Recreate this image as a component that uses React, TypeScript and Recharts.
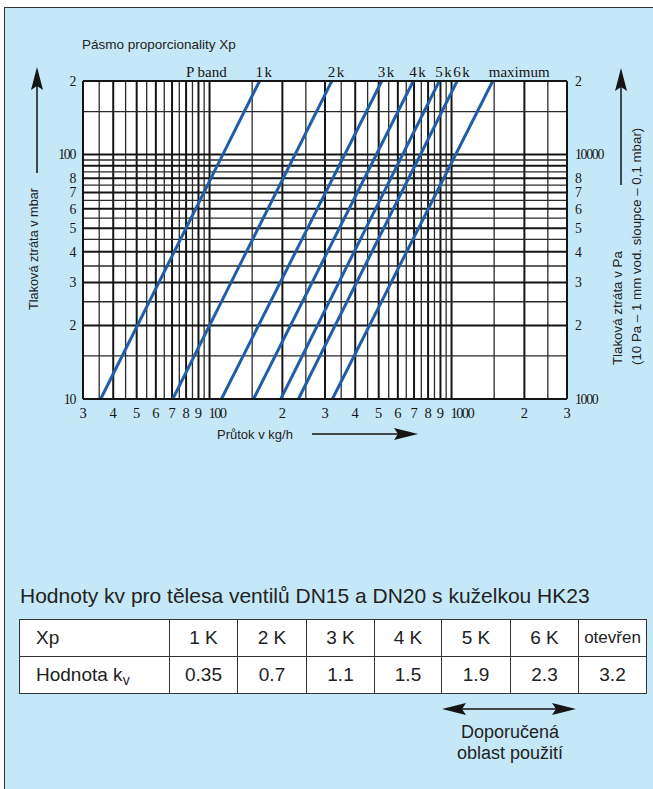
import { LineChart, Line, XAxis, YAxis, ReferenceLine, CartesianGrid } from "recharts";

// flow (kg/h) where each Xp line crosses 10 mbar and 200 mbar
const seriesNames = ["1k", "2k", "3k", "4k", "5k", "6k", "maximum"];
const flowAt10 = [35.5, 70.5, 112, 152, 197, 233, 322];
const flowAt200 = [161, 320, 515, 695, 890, 1055, 1480];
const dpRange = [10, 200];

const flowTicks = [30, 40, 50, 60, 70, 80, 90, 100, 200, 300, 400, 500, 600, 700, 800, 900, 1000, 2000, 3000];
const mbarTicks = [10, 20, 30, 40, 50, 60, 70, 80, 100, 200];
const paTicks = [1000, 2000, 3000, 4000, 5000, 6000, 7000, 8000, 10000, 20000];

const flowGridMajor = [40, 50, 60, 70, 80, 90, 100, 200, 300, 400, 500, 600, 700, 800, 900, 1000, 2000];
const flowGridMinor = [35, 45, 55, 65, 75, 85, 95, 150, 250, 350, 450, 550, 650, 750, 850, 950, 1500, 2500];
const mbarGridMajor = [20, 30, 40, 50, 60, 70, 80, 90, 100];
const mbarGridMinor = [15, 25, 35, 45, 55, 65, 75, 85, 95, 150];

const tableXp = ["1 K", "2 K", "3 K", "4 K", "5 K", "6 K", "otevřen"];
const tableKv = ["0.35", "0.7", "1.1", "1.5", "1.9", "2.3", "3.2"];

const SANS = '"Liberation Sans", Arial, Helvetica, sans-serif';
const SERIF = '"Liberation Serif", "Times New Roman", serif';
const BLUE = "#1f5ea8";
const INK = "#151515";
const BG = "#c5e8f8";

function isDecade(v: number) {
  return /^10+$/.test(String(v));
}

function shortLabel(v: number) {
  const s = String(v);
  return isDecade(v) ? s : s[0];
}

const tickStyle = { fontSize: 13.8, fontFamily: SERIF, fill: INK, letterSpacing: -1.3 };
const border = { stroke: INK, strokeWidth: 2 };

function TopTick(props: any) {
  const { x, y, index } = props;
  const name = seriesNames[index];
  return (
    <text
      x={x - 4}
      y={y}
      fontSize={15}
      fontFamily={SERIF}
      fill={INK}
      textAnchor="start"
      letterSpacing={name.length < 3 ? 1.5 : 0}
    >
      {name}
    </text>
  );
}

// decade labels (100, 1000) start at their grid line, the rest are centred
function FlowTick(props: any) {
  const { x, y, payload } = props;
  const decade = isDecade(payload.value);
  return (
    <text
      x={decade ? x - 1 : x}
      y={y + 10.5}
      textAnchor={decade ? "start" : "middle"}
      fontSize={14.5}
      fontFamily={SERIF}
      fill={INK}
      letterSpacing={decade ? -1.6 : 0}
    >
      {shortLabel(payload.value)}
    </text>
  );
}

const colWidths = [150, 68, 69, 68, 67, 69, 68, 68];

export default function App() {
  const cell: React.CSSProperties = {
    border: "1px solid #333",
    height: 36,
    padding: 0,
    textAlign: "center",
    fontSize: 19,
    fontFamily: SANS,
    color: "#222",
  };
  return (
    <div style={{ position: "absolute", left: 0, top: 0, width: 653, height: 789, background: "#fff", overflow: "hidden" }}>
      <div
        style={{
          position: "absolute",
          left: 4,
          top: 7,
          width: 660,
          height: 800,
          background: BG,
          borderLeft: "1.5px solid #333",
          borderTop: "1.5px solid #333",
        }}
      />
      <div style={{ position: "absolute", left: 0, top: 0 }}>
        <LineChart width={653} height={460} margin={{ top: 61, right: 46, left: 43, bottom: 31 }}>
          <CartesianGrid yAxisId="mbar" fill="#fff" horizontal={false} vertical={false} />
          <XAxis
            dataKey="q"
            type="number"
            scale="log"
            domain={[30, 3000]}
            allowDataOverflow
            ticks={flowTicks}
            interval={0}
            tick={<FlowTick />}
            tickLine={false}
            axisLine={border}
            height={30}
          />
          <XAxis
            xAxisId="top"
            dataKey="q"
            type="number"
            scale="log"
            domain={[30, 3000]}
            allowDataOverflow
            orientation="top"
            ticks={flowAt200}
            interval={0}
            tick={<TopTick />}
            tickSize={4}
            tickMargin={0}
            tickLine={false}
            axisLine={border}
            height={20}
          />
          <YAxis
            yAxisId="mbar"
            type="number"
            scale="log"
            domain={[10, 200]}
            allowDataOverflow
            ticks={mbarTicks}
            interval={0}
            tickFormatter={shortLabel}
            tick={tickStyle}
            tickLine={false}
            axisLine={border}
            width={40}
          />
          <YAxis
            yAxisId="pa"
            orientation="right"
            type="number"
            scale="log"
            domain={[1000, 20000]}
            allowDataOverflow
            ticks={paTicks}
            interval={0}
            tickFormatter={shortLabel}
            tick={tickStyle}
            tickLine={false}
            axisLine={border}
            width={40}
          />
          {flowGridMinor.map((v) => (
            <ReferenceLine key={"fx" + v} x={v} yAxisId="mbar" stroke="#2a2a2a" strokeWidth={1.3} />
          ))}
          {flowGridMajor.map((v) => (
            <ReferenceLine key={"FX" + v} x={v} yAxisId="mbar" stroke={INK} strokeWidth={2} />
          ))}
          {mbarGridMinor.map((v) => (
            <ReferenceLine key={"my" + v} y={v} yAxisId="mbar" stroke="#2a2a2a" strokeWidth={1.3} />
          ))}
          {mbarGridMajor.map((v) => (
            <ReferenceLine key={"MY" + v} y={v} yAxisId="mbar" stroke={INK} strokeWidth={2} />
          ))}
          {seriesNames.map((name, i) => (
            <Line
              key={name}
              name={name}
              yAxisId="mbar"
              data={[
                { q: flowAt10[i], dp: dpRange[0] },
                { q: flowAt200[i], dp: dpRange[1] },
              ]}
              dataKey="dp"
              stroke={BLUE}
              strokeWidth={3}
              dot={false}
              isAnimationActive={false}
            />
          ))}
        </LineChart>
      </div>

      <svg width={653} height={789} style={{ position: "absolute", left: 0, top: 0, pointerEvents: "none" }}>
        <text x={82} y={49} fontSize={13.5} fontFamily={SANS} fill="#222">
          Pásmo proporcionality Xp
        </text>
        <text x={186} y={77} fontSize={15} fontFamily={SERIF} fill={INK}>
          P band
        </text>
        {/* left axis title with arrow */}
        <line x1={37} y1={173} x2={37} y2={84} stroke={INK} strokeWidth={1.5} />
        <polygon points="37,67 43,90 37,86 31,90" fill={INK} />
        <text
          transform="translate(38,249) rotate(-90)"
          textAnchor="middle"
          fontSize={12.7}
          fontFamily={SANS}
          fill="#222"
        >
          Tlaková ztráta v mbar
        </text>
        {/* right axis title with arrow */}
        <line x1={621} y1={185} x2={621} y2={85} stroke={INK} strokeWidth={1.5} />
        <polygon points="621,68 627,91 621,87 615,91" fill={INK} />
        <text transform="translate(622,365) rotate(-90)" fontSize={13.3} fontFamily={SANS} fill="#222">
          Tlaková ztráta v Pa
        </text>
        <text transform="translate(641,365) rotate(-90)" fontSize={13.3} fontFamily={SANS} fill="#222">
          (10 Pa – 1 mm vod. sloupce – 0,1 mbar)
        </text>
        {/* x axis title with arrow */}
        <text x={217} y={439} fontSize={13} fontFamily={SANS} fill="#222">
          Průtok v kg/h
        </text>
        <line x1={312} y1={434} x2={400} y2={434} stroke={INK} strokeWidth={1.5} />
        <polygon points="418,434 394,428 398,434 394,440" fill={INK} />
        {/* recommended range arrow */}
        <line x1={458} y1={709} x2={560} y2={709} stroke={INK} strokeWidth={1.5} />
        <polygon points="442,709 466,703 462,709 466,715" fill={INK} />
        <polygon points="576,709 552,703 556,709 552,715" fill={INK} />
      </svg>

      <div
        style={{
          position: "absolute",
          left: 20,
          top: 584,
          fontSize: 21,
          lineHeight: "24px",
          fontFamily: SANS,
          color: "#222",
          whiteSpace: "nowrap",
        }}
      >
        Hodnoty kv pro tělesa ventilů DN15 a DN20 s kuželkou HK23
      </div>

      <table
        style={{
          position: "absolute",
          left: 19,
          top: 619,
          borderCollapse: "collapse",
          background: "#fff",
          tableLayout: "fixed",
          width: 627,
        }}
      >
        <colgroup>
          {colWidths.map((w, i) => (
            <col key={i} style={{ width: w }} />
          ))}
        </colgroup>
        <tbody>
          <tr>
            <td style={{ ...cell, textAlign: "left", paddingLeft: 16 }}>Xp</td>
            {tableXp.map((t) => (
              <td key={t} style={{ ...cell, fontSize: t.length > 4 ? 17 : 19 }}>
                {t}
              </td>
            ))}
          </tr>
          <tr>
            <td style={{ ...cell, textAlign: "left", paddingLeft: 16 }}>
              Hodnota k
              <span style={{ fontSize: 14, position: "relative", top: 4 }}>v</span>
            </td>
            {tableKv.map((t, i) => (
              <td key={i} style={cell}>
                {t}
              </td>
            ))}
          </tr>
        </tbody>
      </table>

      <div
        style={{
          position: "absolute",
          left: 410,
          top: 722,
          width: 200,
          textAlign: "center",
          fontSize: 18,
          lineHeight: "21px",
          fontFamily: SANS,
          color: "#222",
        }}
      >
        Doporučená
        <br />
        oblast použití
      </div>
    </div>
  );
}
